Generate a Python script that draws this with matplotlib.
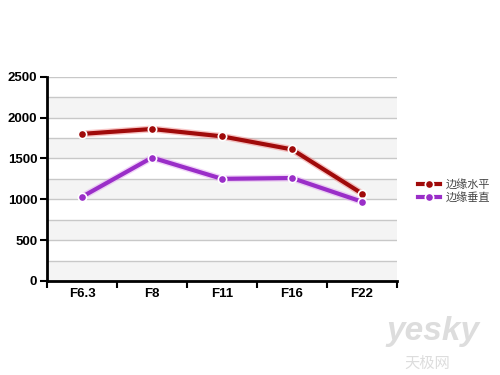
import matplotlib.pyplot as plt
import numpy as np

plt.rcParams['font.family'] = ['Liberation Sans', 'Noto Sans CJK SC', 'DejaVu Sans']

categories = ["F6.3", "F8", "F11", "F16", "F22"]
horizontal = [1800, 1860, 1770, 1610, 1070]
vertical = [1030, 1510, 1250, 1260, 970]
labels = ["边缘水平", "边缘垂直"]
colors = ["#a00a0a", "#9a2ec8"]
glows = ["#f08080", "#e0a0f0"]

fig = plt.figure(figsize=(5, 3.75), dpi=100)
ax = fig.add_axes([0.094, 0.2507, 0.7, 0.5448])

x = np.arange(len(categories))
ax.set_xlim(-0.5, len(categories) - 0.5)
ax.set_ylim(0, 2500)

# alternating bands
for i, lo in enumerate(range(0, 2500, 250)):
    if i % 2 == 0:
        ax.axhspan(lo, lo + 250, color="#f4f4f4", zorder=0, lw=0)
for y in range(250, 2501, 250):
    ax.axhline(y, color="#c8c8c8", lw=1, zorder=1)

handles = []
for vals, c, g, lab in zip([horizontal, vertical], colors, glows, labels):
    ax.plot(x, vals, color=g, lw=5, alpha=0.45, zorder=2, solid_capstyle="round")
    h, = ax.plot(x, vals, color=c, lw=3, marker="o", ms=6, mfc=c, mec="white",
                 mew=1.2, zorder=3, label=lab)
    handles.append(h)

ax.set_yticks(range(0, 2501, 500))
ax.set_xticks(x)
ax.set_xticklabels(categories)
ax.set_xticks(np.arange(-0.5, len(categories)), minor=True)
ax.tick_params(axis="x", which="major", length=0, pad=5)
ax.tick_params(axis="x", which="minor", length=5, width=1.5, direction="out")
ax.tick_params(axis="y", length=5, width=1.5, direction="out", pad=2)
for lbl in ax.get_xticklabels() + ax.get_yticklabels():
    lbl.set_fontweight("bold")
    lbl.set_fontsize(9.5)

for s in ["top", "right"]:
    ax.spines[s].set_visible(False)
for s in ["left", "bottom"]:
    ax.spines[s].set_linewidth(2)

fig.legend(handles=handles, loc="center left", bbox_to_anchor=(0.815, 0.49),
           frameon=False, fontsize=8, handlelength=2.0, handletextpad=0.5,
           labelspacing=0.2, labelcolor="#444444")

# watermark
fig.text(0.865, 0.115, "yesky", fontsize=24, fontweight="bold", color="#dddddd",
         ha="center", va="center", style="italic")
fig.text(0.855, 0.03, "天极网", fontsize=11, color="#dddddd", ha="center",
         va="center", family=["Noto Sans CJK SC"])

fig.savefig("out.png", dpi=100)
